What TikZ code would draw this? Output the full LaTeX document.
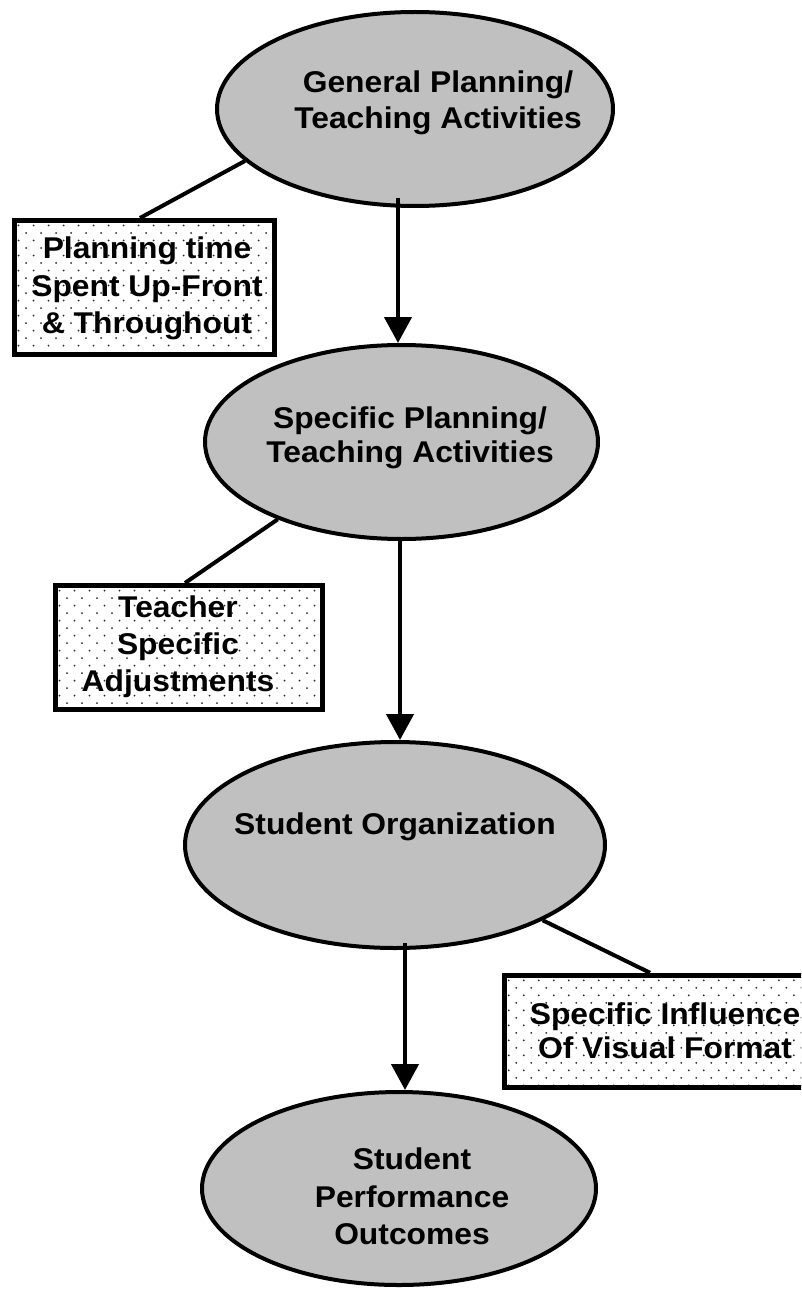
\documentclass[tikz,border=0pt]{standalone}
\usepackage{fontspec}
\newfontfamily\lbf[FakeStretch=1.06]{Liberation Sans}
\usetikzlibrary{shapes.geometric,arrows.meta}
\definecolor{ellgray}{RGB}{192,192,192}
\definecolor{dotc}{RGB}{40,40,40}
\tikzset{
  ell/.style={ellipse, draw, line width=4pt, fill=ellgray, inner sep=0pt},
  dotbox/.style={rectangle, draw, line width=5pt, fill=white, inner sep=0pt,
    path picture={
      \coordinate (pp) at (path picture bounding box.north west);
      \foreach \i in {0,...,19}{
        \foreach \j in {0,...,23}{
          \fill[dotc] ([xshift={(\j*15+mod(\i,2)*7.5+4)*1pt}, yshift={(-\i*7.5-5)*1pt}]pp) circle (1pt);
        }
      }
    }},
  txt/.style={inner sep=0pt, align=center},
  conn/.style={line width=4pt},
  arr/.style={line width=4.5pt, -{Triangle[width=27pt,length=26pt]}}
}
\newcommand{\topstrut}{\rule{0pt}{23pt}}
\newcommand{\botstrut}{\rule[-7pt]{0pt}{7pt}}
\begin{document}
\begin{tikzpicture}[x=1pt,y=-1pt]
\useasboundingbox (0,0) rectangle (801,1289);
\clip (0,0) rectangle (801,1289);
\fill[white] (0,0) rectangle (801,1289);

% ellipses
\node[ell, minimum width=396pt, minimum height=194pt] (e1) at (415,109) {};
\node[ell, minimum width=393pt, minimum height=194pt] (e2) at (401.5,442) {};
\node[ell, minimum width=420pt, minimum height=206pt] (e3) at (395,845) {};
\node[ell, minimum width=394pt, minimum height=193pt] (e4) at (399,1188.5) {};

% boxes
\node[dotbox, minimum width=260pt, minimum height=134pt] (b1) at (144.5,287.5) {};
\node[dotbox, minimum width=267pt, minimum height=124pt] (b2) at (189,647.5) {};
\node[dotbox, minimum width=330pt, minimum height=112.5pt] (b3) at (669.75,1031.5) {};

% texts
\node[txt, font=\lbf\bfseries\fontsize{30}{36}\selectfont] (t1) at (438,102.5)
  {\topstrut General Planning/\\Teaching Activities\botstrut};
\node[txt, font=\lbf\bfseries\fontsize{30}{34}\selectfont] (t2) at (410,437)
  {\topstrut Specific Planning/\\Teaching Activities\botstrut};
\node[txt, font=\lbf\bfseries\fontsize{30}{34}\selectfont] (t3) at (395,826.5)
  {\topstrut Student Organization\botstrut};
\node[txt, font=\lbf\bfseries\fontsize{30}{37.5}\selectfont] (t4) at (412,1199)
  {\topstrut Student\\Performance\\Outcomes\botstrut};
\node[txt, font=\lbf\bfseries\fontsize{30}{37.5}\selectfont] (tb1) at (147,288)
  {\topstrut Planning time\\Spent Up-Front\\\& Throughout\botstrut};
\node[txt, font=\lbf\bfseries\fontsize{30}{37}\selectfont] (tb2) at (178,646.5)
  {\topstrut Teacher\\Specific\\Adjustments\botstrut};
\node[txt, font=\lbf\bfseries\fontsize{30}{34}\selectfont] (tb3) at (665,1033.5)
  {\topstrut Specific Influence\\Of Visual Format\botstrut};

% connectors
\draw[conn] ([xshift=-4.5pt]b1.north) -- (e1.197.6);
\draw[conn] ([xshift=-4pt]b2.north) -- (e2.212);
\draw[conn] (e3.333) -- ([xshift=-19.75pt]b3.north);

% arrows
\draw[arr] ([xshift=-17pt,yshift=10pt]e1.south) -- ([xshift=-3.5pt]e2.north);
\draw[arr] ([xshift=-1.5pt]e2.south) -- ([xshift=5pt]e3.north);
\draw[arr] ([xshift=10pt,yshift=7pt]e3.south) -- ([xshift=6pt]e4.north);
\end{tikzpicture}
\end{document}
